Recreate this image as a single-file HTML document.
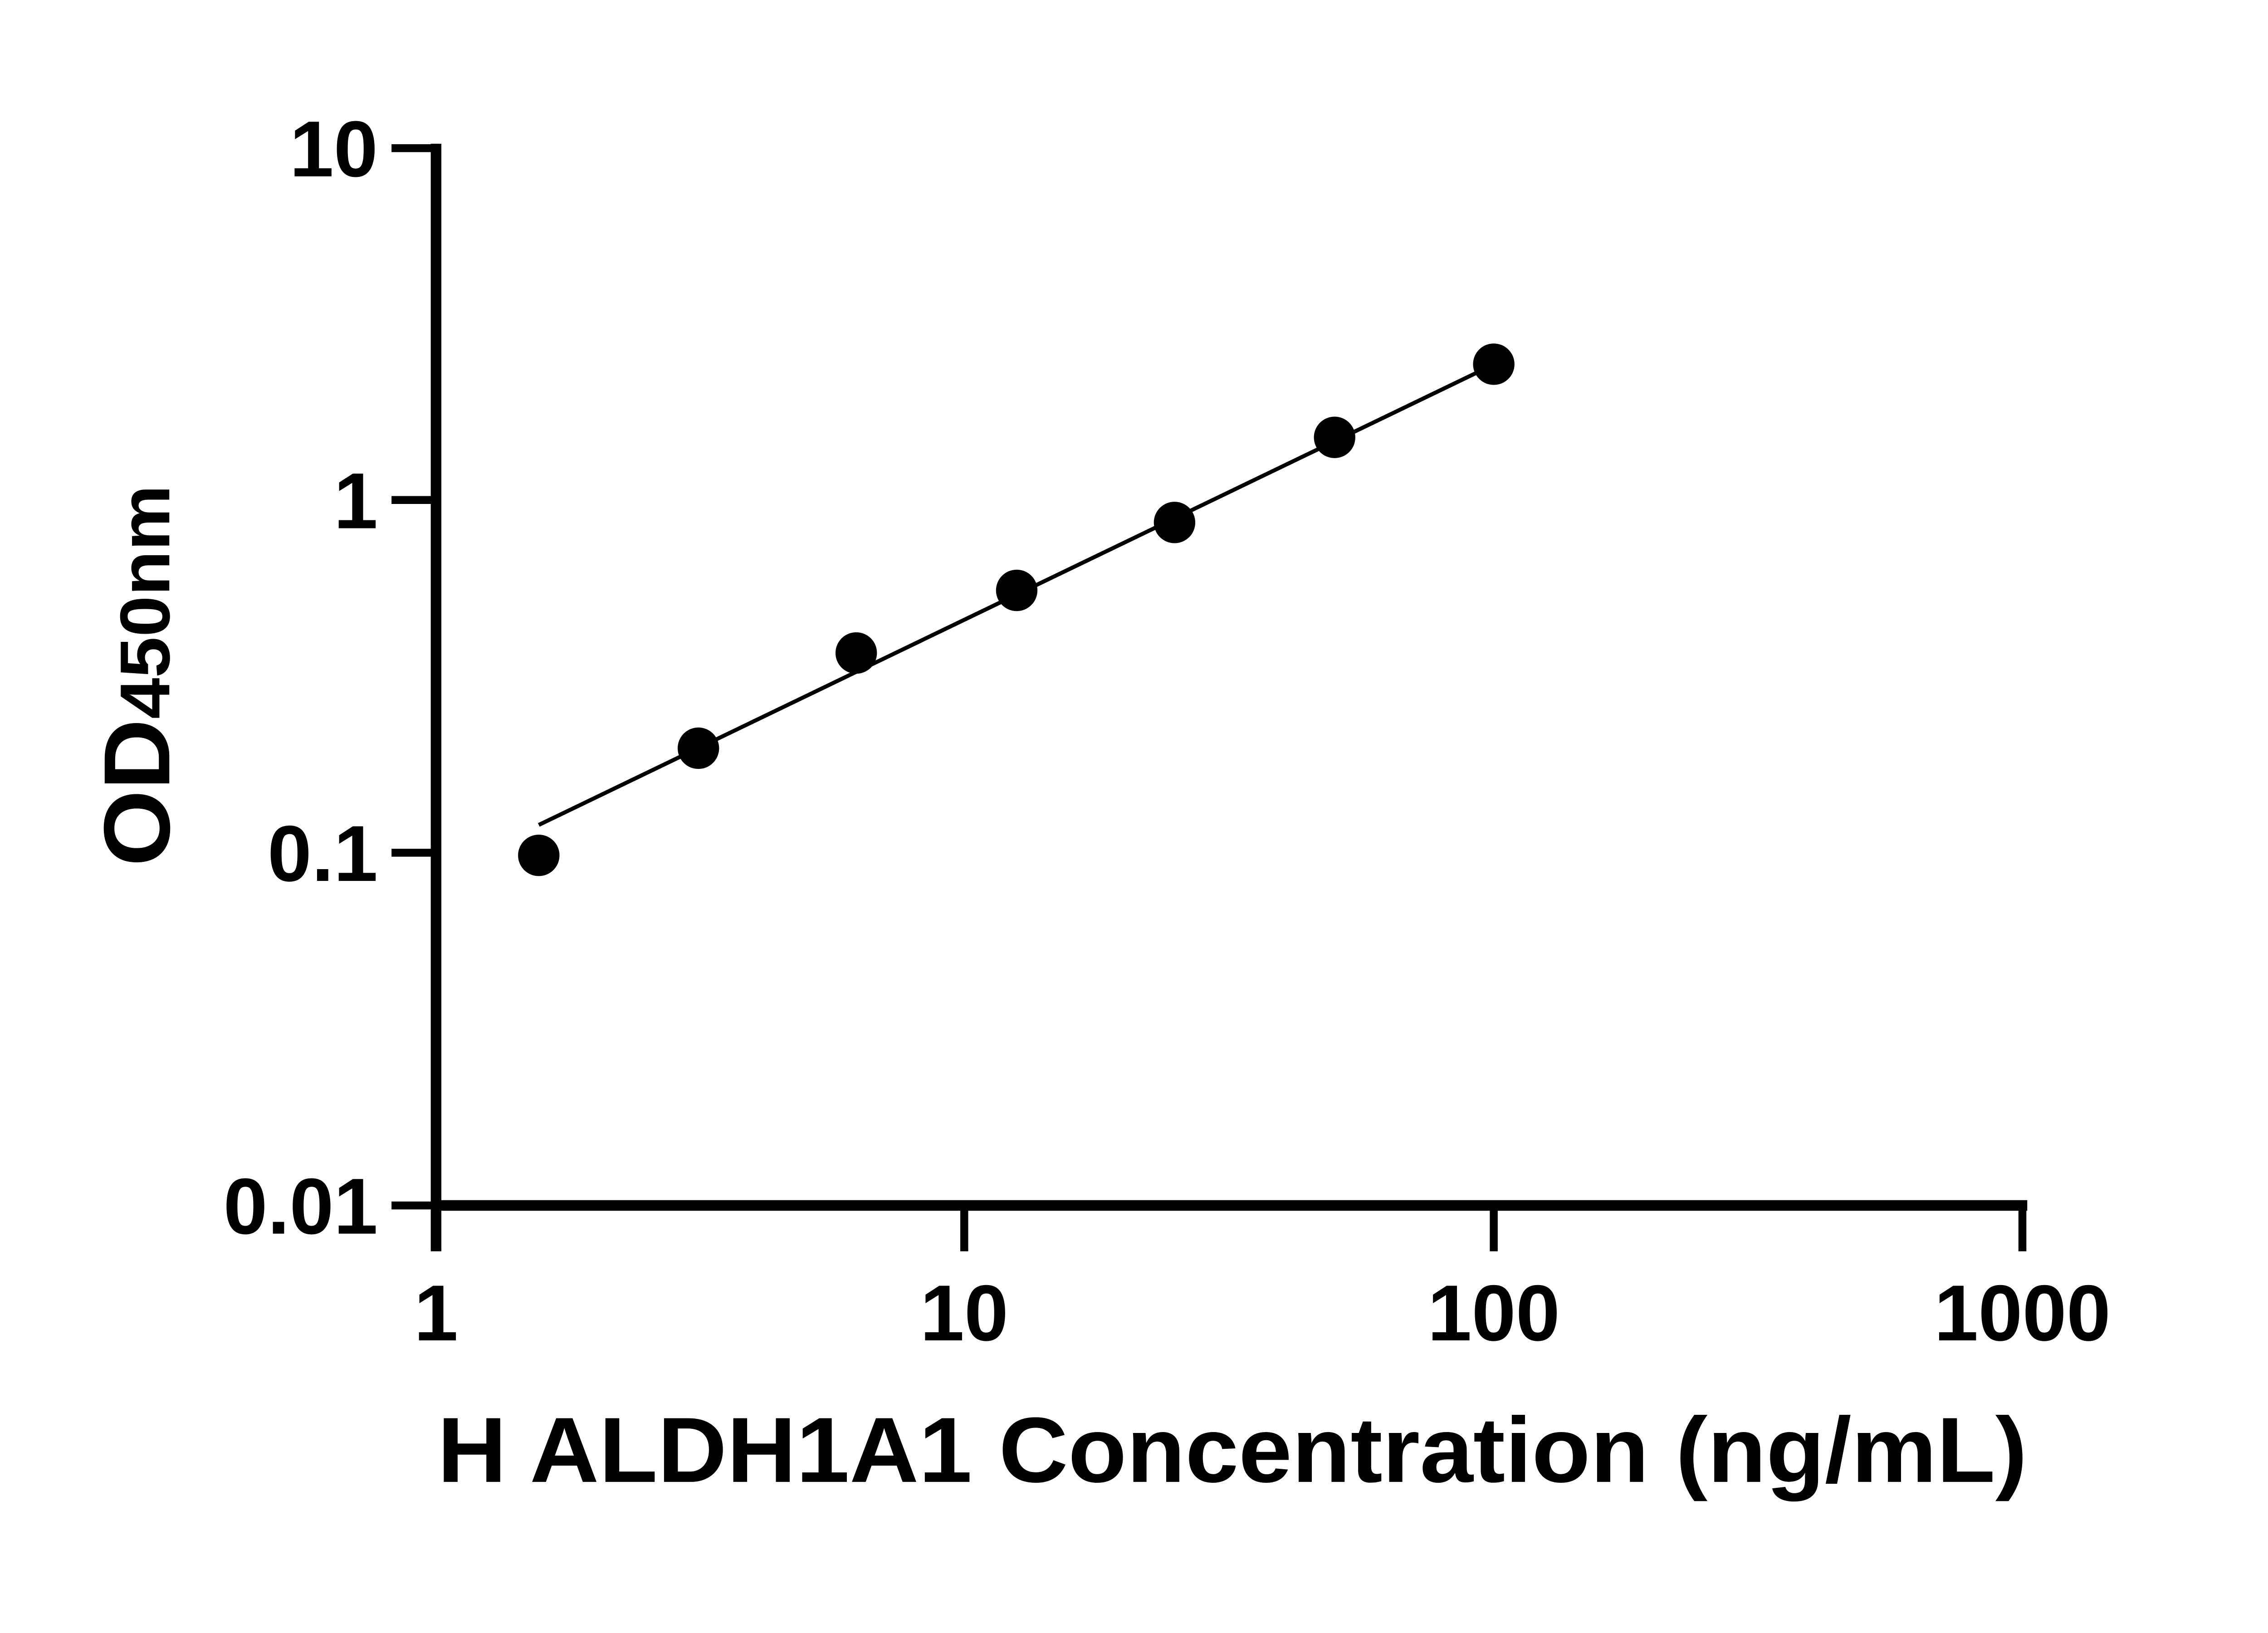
<!DOCTYPE html>
<html><head><meta charset="utf-8"><style>html,body{margin:0;padding:0;background:#fff}svg{display:block}</style></head>
<body>
<svg width="5142" height="3600" viewBox="0 0 5142 3600" xmlns="http://www.w3.org/2000/svg" font-family="Liberation Sans, Arial, sans-serif" font-weight="bold">
<rect width="5142" height="3600" fill="#fff"/>
<g transform="scale(0.972)">
<g stroke="#000" stroke-linecap="butt" fill="none">
<line x1="989" y1="326" x2="989" y2="2838" stroke-width="24"/>
<line x1="979" y1="2734" x2="4598" y2="2734" stroke-width="24"/>
<g stroke-width="18">
<line x1="888" y1="336" x2="989" y2="336"/>
<line x1="888" y1="1134" x2="989" y2="1134"/>
<line x1="888" y1="1934" x2="989" y2="1934"/>
<line x1="888" y1="2734" x2="989" y2="2734"/>
<line x1="2187" y1="2734" x2="2187" y2="2838"/>
<line x1="3388" y1="2734" x2="3388" y2="2838"/>
<line x1="4587" y1="2734" x2="4587" y2="2838"/>
</g>
<line x1="1222" y1="1871" x2="3350" y2="845" stroke-width="9"/>
</g>
<g fill="#000">
<circle cx="1222" cy="1940" r="47"/>
<circle cx="1584" cy="1697" r="47"/>
<circle cx="1942" cy="1481" r="47"/>
<circle cx="2306" cy="1339" r="47"/>
<circle cx="2664" cy="1185" r="47"/>
<circle cx="3027" cy="992" r="47"/>
<circle cx="3388" cy="826" r="47"/>
</g>
<g font-size="180" text-anchor="end" fill="#000">
<text x="857" y="400">10</text>
<text x="857" y="1198">1</text>
<text x="857" y="1998">0.1</text>
<text x="857" y="2798">0.01</text>
</g>
<g font-size="180" text-anchor="middle" fill="#000">
<text x="989" y="3040">1</text>
<text x="2187" y="3040">10</text>
<text x="3388" y="3040">100</text>
<text x="4587" y="3040">1000</text>
</g>
<text x="992" y="3361" font-size="210" textLength="3606" lengthAdjust="spacingAndGlyphs" fill="#000">H ALDH1A1 Concentration (ng/mL)</text>
<text transform="translate(384,1965) rotate(-90)" fill="#000" textLength="865" lengthAdjust="spacingAndGlyphs"><tspan font-size="213">OD</tspan><tspan font-size="160">450nm</tspan></text>
</g>
</svg>
</body></html>
